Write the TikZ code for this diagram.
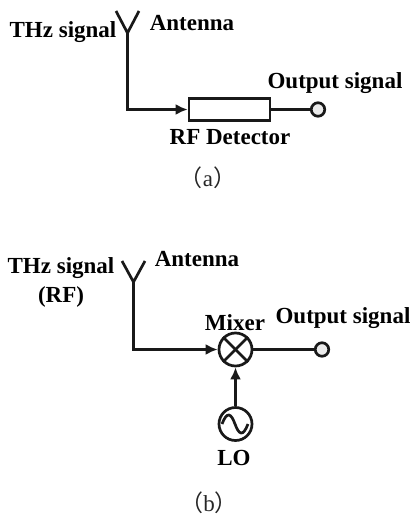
\documentclass[tikz,border=0pt]{standalone}
\usepackage{fontspec}
\setmainfont{Liberation Serif}
\newfontfamily\cjk{Noto Sans CJK SC}
\usetikzlibrary{arrows.meta}
\tikzset{
    wire/.style={line width=2.7pt, black!90},
    lbl/.style={font=\fontsize{23}{29}\selectfont\bfseries, black, inner sep=0pt, align=center},
    caplbl/.style={font=\fontsize{23}{27}\selectfont, black!85, inner sep=0pt},
    blk/.style={draw, line width=2.7pt, black!90, inner sep=0pt},
    term/.style={blk, circle, fill=black!8, minimum size=13.5pt}
}
\begin{document}
\begin{tikzpicture}[x=1pt,y=-1pt]
    \useasboundingbox (0,0) rectangle (410,517);

    % (a)
    \coordinate (a1) at (127.5,33);
    \coordinate (a1l) at (116,11);
    \coordinate (a1r) at (139,11);
    \node[blk, minimum width=81pt, minimum height=22pt] (det) at (229.5,109.5) {};
    \node[term] (out1) at (318,109.5) {};
    \node[lbl] (thz1) at (63,32) {THz signal};
    \node[lbl] (ant1) at (192,23) {Antenna};
    \node[lbl] (sig1) at (335,83) {Output signal};
    \node[lbl] (detlbl) at (230,137) {RF Detector};
    \node[caplbl] (capa) at (208,178) {{\cjk （}a{\cjk ）}};

    % (b)
    \coordinate (a2) at (133.5,282);
    \coordinate (a2l) at (122,261);
    \coordinate (a2r) at (145,261);
    \node[blk, circle, minimum size=33pt] (mix) at (235.5,349.5) {};
    \node[blk, circle, minimum size=33pt] (lo) at (235.5,424) {};
    \node[term] (out2) at (322,349.5) {};
    \node[lbl] (thz2) at (61,282) {THz signal\\(RF)};
    \node[lbl] (ant2) at (197,259) {Antenna};
    \node[lbl] (mixlbl) at (235,323) {Mixer};
    \node[lbl] (sig2) at (343,318) {Output signal};
    \node[lbl] (lolbl) at (234,458) {LO};
    \node[caplbl] (capb) at (209,503) {{\cjk （}b{\cjk ）}};

    \begin{scope}[every path/.style={wire}]
       \draw (a1l) -- (a1) -- (a1r);
       \draw (det) -- (out1);
       \draw (a2l) -- (a2) -- (a2r);
       \draw (mix) -- (out2);
       \draw (mix.north west) -- (mix.south east);
       \draw (mix.north east) -- (mix.south west);
       \draw (222,424) .. controls (227,411) and (231,413) .. (235,424)
             .. controls (239,435) and (243,437) .. (248,424);
    \end{scope}

    \begin{scope}[every path/.style={wire, -{Latex[length=12pt,width=11pt]}}]
       \draw (a1) |- (det);
       \draw (a2) |- (mix);
       \draw (lo) -- (mix);
    \end{scope}

\end{tikzpicture}
\end{document}
